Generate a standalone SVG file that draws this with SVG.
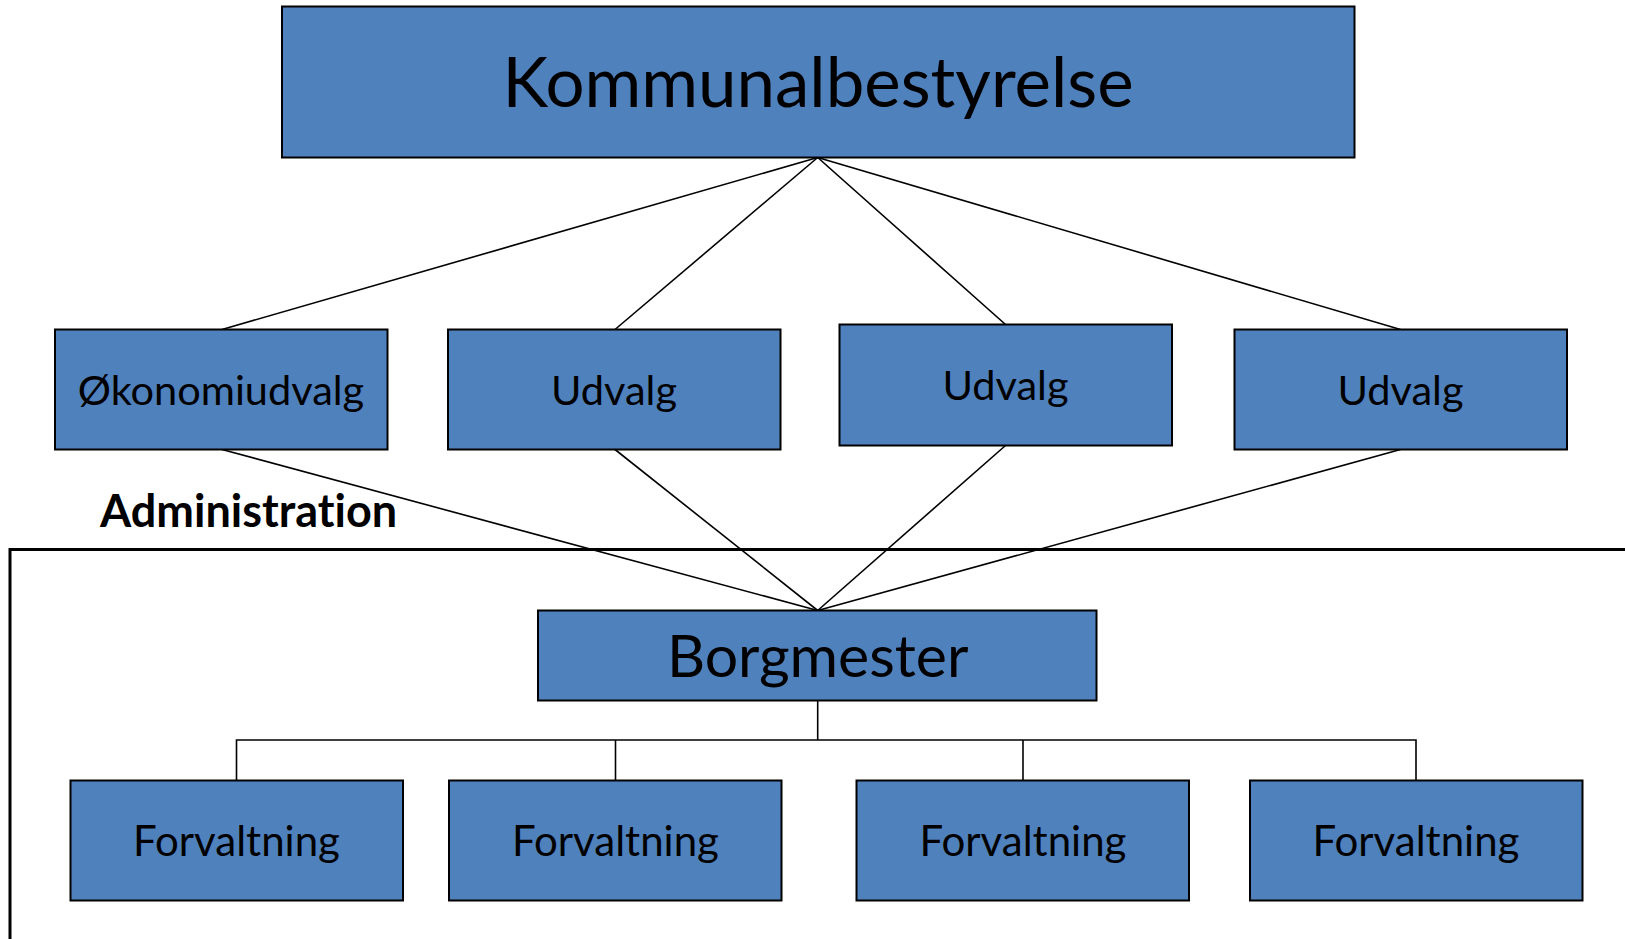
<svg xmlns="http://www.w3.org/2000/svg" width="1625" height="939" viewBox="0 0 1625 939">
<style>
.box{fill:#4F81BD;stroke:#000;stroke-width:2}
.lbl{font-family:Lato,"Liberation Sans",sans-serif;fill:#000;text-anchor:middle;font-variant-ligatures:none}
.con{stroke:#000;stroke-width:1.6;fill:none}
</style>
<rect width="1625" height="939" fill="#fff"/>
<g id="admin-frame">
<path d="M1630,549.5 H10 V945" fill="none" stroke="#000" stroke-width="3"/>
<text x="100" y="527" font-family="Lato,'Liberation Sans',sans-serif" font-weight="bold" font-size="45" fill="#000" style="font-variant-ligatures:none">Administration</text>
</g>
<g id="connectors">
<line class="con" x1="817.7" y1="157.5" x2="222" y2="329.5"/>
<line class="con" x1="817.7" y1="157.5" x2="615" y2="329.5"/>
<line class="con" x1="817.7" y1="157.5" x2="1005.5" y2="324.5"/>
<line class="con" x1="817.7" y1="157.5" x2="1400.5" y2="329.5"/>
<line class="con" x1="222" y1="449.5" x2="817.7" y2="610.5"/>
<line class="con" x1="615" y1="449.5" x2="817.7" y2="610.5"/>
<line class="con" x1="1005.5" y1="445.5" x2="817.7" y2="610.5"/>
<line class="con" x1="1400.5" y1="449.5" x2="817.7" y2="610.5"/>
<path class="con" d="M817.7,700.5 V740"/>
<path class="con" d="M236.5,780.5 V740 H1416 V780.5"/>
<path class="con" d="M615.5,740 V780.5"/>
<path class="con" d="M1023,740 V780.5"/>
</g>
<g id="kommunalbestyrelse">
<rect class="box" x="282" y="6.5" width="1072.5" height="151"/>
<text class="lbl" x="818" y="107" font-size="69">Kommunalbestyrelse</text>
</g>
<g id="okonomiudvalg">
<rect class="box" x="55" y="329.5" width="332.5" height="120"/>
<text class="lbl" x="221" y="405" font-size="41.5">Økonomiudvalg</text>
</g>
<g id="udvalg1">
<rect class="box" x="448" y="329.5" width="332.5" height="120"/>
<text class="lbl" x="614" y="405" font-size="41.5">Udvalg</text>
</g>
<g id="udvalg2">
<rect class="box" x="839.5" y="324.5" width="332.5" height="121"/>
<text class="lbl" x="1005.5" y="399.5" font-size="41.5">Udvalg</text>
</g>
<g id="udvalg3">
<rect class="box" x="1234.5" y="329.5" width="332.5" height="120"/>
<text class="lbl" x="1400.5" y="405" font-size="41.5">Udvalg</text>
</g>
<g id="borgmester">
<rect class="box" x="538" y="610.5" width="558.5" height="90"/>
<text class="lbl" x="817.7" y="676.5" font-size="59">Borgmester</text>
</g>
<g id="forvaltning1">
<rect class="box" x="70.5" y="780.5" width="332.5" height="120"/>
<text class="lbl" x="236.5" y="856" font-size="42">Forvaltning</text>
</g>
<g id="forvaltning2">
<rect class="box" x="449" y="780.5" width="332.5" height="120"/>
<text class="lbl" x="615.5" y="856" font-size="42">Forvaltning</text>
</g>
<g id="forvaltning3">
<rect class="box" x="856.5" y="780.5" width="332.5" height="120"/>
<text class="lbl" x="1023" y="856" font-size="42">Forvaltning</text>
</g>
<g id="forvaltning4">
<rect class="box" x="1250" y="780.5" width="332.5" height="120"/>
<text class="lbl" x="1416" y="856" font-size="42">Forvaltning</text>
</g>
</svg>
